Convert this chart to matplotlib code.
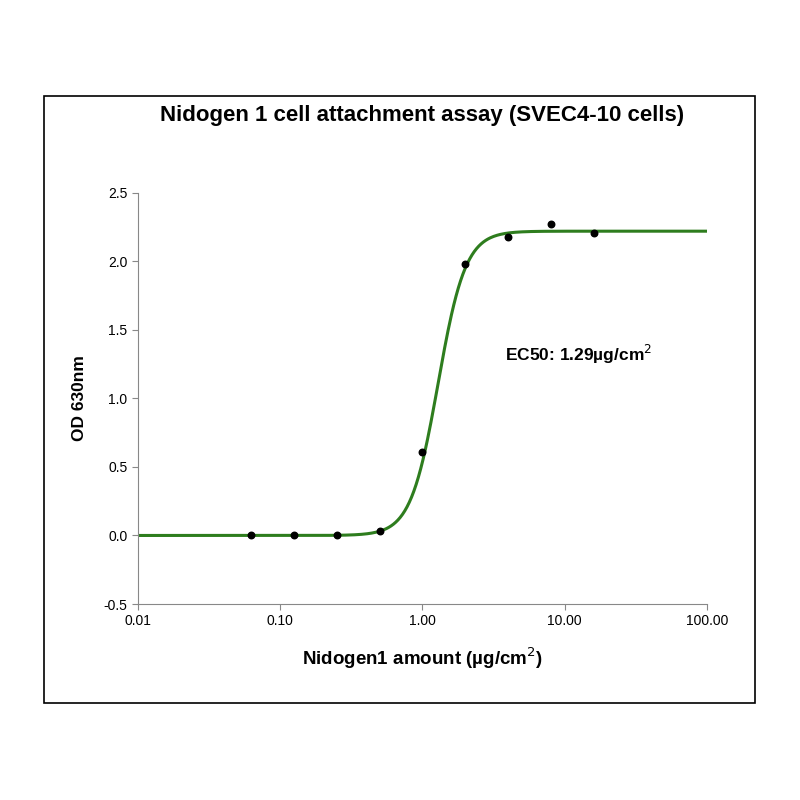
import numpy as np
import matplotlib
matplotlib.use("Agg")
import matplotlib.pyplot as plt
from matplotlib.patches import Rectangle

plt.rcParams['font.family'] = ['Liberation Sans', 'DejaVu Sans']

conc = [0.0625, 0.125, 0.25, 0.5, 1, 2, 4, 8, 16]
od = [0.0, 0.0, 0.0, 0.03, 0.61, 1.98, 2.18, 2.27, 2.21]
ec50 = 1.29
top = 2.22
bottom = 0.0
hill = 4.5
xticks = [0.01, 0.1, 1, 10, 100]
xticklabels = ["0.01", "0.10", "1.00", "10.00", "100.00"]
yticks = [-0.5, 0.0, 0.5, 1.0, 1.5, 2.0, 2.5]
yticklabels = ["-0.5", "0.0", "0.5", "1.0", "1.5", "2.0", "2.5"]

fig = plt.figure(figsize=(8, 8), dpi=100)
fig.patches.append(Rectangle((0.055, 0.121), 0.889, 0.759, transform=fig.transFigure,
                             fill=False, edgecolor='black', linewidth=1.2))
ax = fig.add_axes([0.1725, 0.245, 0.711, 0.514])
xs = np.logspace(-2, 2, 500)
ys = bottom + (top - bottom) / (1 + (ec50 / xs) ** hill)
ax.plot(xs, ys, color='#2e7d1e', linewidth=2.2, zorder=2)
ax.scatter(conc, od, color='black', s=22, zorder=3)
ax.set_xscale('log')
ax.set_xlim(0.01, 100)
ax.set_ylim(-0.5, 2.5)
ax.set_xticks(xticks)
ax.set_xticklabels(xticklabels)
ax.minorticks_off()
ax.set_yticks(yticks)
ax.set_yticklabels(yticklabels)
ax.tick_params(labelsize=10, color='#888888', length=4)
for s in ['top', 'right']:
    ax.spines[s].set_visible(False)
for s in ['left', 'bottom']:
    ax.spines[s].set_color('#888888')
ax.set_xlabel("Nidogen1 amount (µg/cm$^2$)", fontsize=13.5, fontweight='bold', labelpad=12)
ax.set_ylabel("OD 630nm", fontsize=12.5, fontweight='bold', labelpad=12)
ax.set_title("Nidogen 1 cell attachment assay (SVEC4-10 cells)", fontsize=16,
             fontweight='bold', pad=52)
ax.text(3.8, 1.32, "EC50: 1.29µg/cm$^2$", fontsize=12.5, fontweight='bold', va='center')
fig.savefig("out.png")
